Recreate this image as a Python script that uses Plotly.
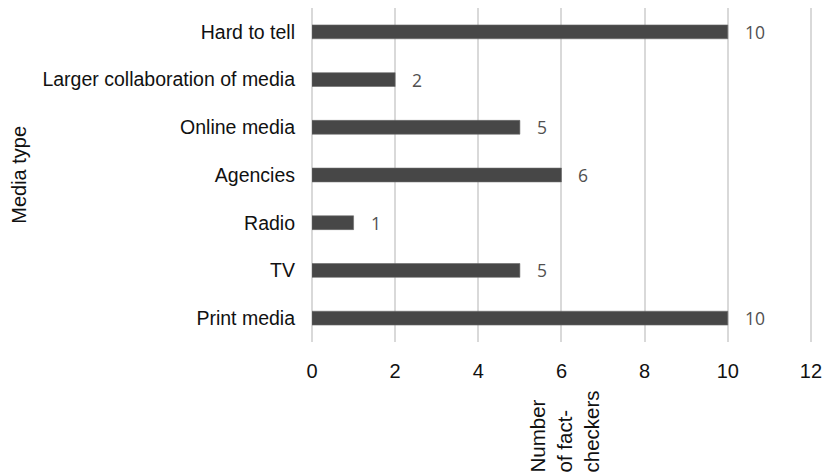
import plotly.graph_objects as go

categories = ["Print media", "TV", "Radio", "Agencies", "Online media",
              "Larger collaboration of media", "Hard to tell"]
values = [10, 5, 1, 6, 5, 2, 10]
x_ticks = [0, 2, 4, 6, 8, 10, 12]

L, R, T, B = 312, 14, 8, 134
W, H = 830, 476
pw, ph = W - L - R, H - T - B

fig = go.Figure()
fig.add_trace(go.Bar(
    y=categories, x=values, orientation="h",
    marker=dict(color="#474747", line=dict(color="#6a6a6a", width=0.6)),
    width=0.29, hoverinfo="skip"))

for c, v in zip(categories, values):
    fig.add_annotation(x=v, y=c, text=str(v), showarrow=False,
                       xanchor="left", xshift=15,
                       font=dict(family="Open Sans", size=17.5, color="#505050"))

fig.add_annotation(xref="paper", yref="paper",
                   x=(566 - L) / pw, y=(ph - (474 - T)) / ph,
                   xanchor="center", yanchor="bottom",
                   text="Number<br>of fact-<br>checkers", textangle=-90,
                   align="left", showarrow=False,
                   font=dict(family="Liberation Sans", size=20.5, color="#111"))

fig.add_annotation(xref="paper", yref="paper",
                   x=(17 - L) / pw, y=0.5,
                   xanchor="center", yanchor="middle",
                   text="Media type", textangle=-90, showarrow=False,
                   font=dict(family="Liberation Sans", size=20, color="#111"))

fig.update_layout(
    width=W, height=H, margin=dict(l=L, r=R, t=T, b=B),
    paper_bgcolor="white", plot_bgcolor="white", showlegend=False,
    font=dict(family="Liberation Sans", size=19, color="#111"),
    bargap=0.7,
    xaxis=dict(range=[0, 12.05], tickvals=x_ticks, ticktext=[str(t) for t in x_ticks],
               showgrid=True, gridcolor="#d9d9d9", gridwidth=1.5,
               zeroline=True, zerolinecolor="#d9d9d9", zerolinewidth=1.5,
               showline=False, ticks="", ticklabelstandoff=15,
               tickfont=dict(size=20)),
    yaxis=dict(categoryorder="array", categoryarray=categories,
               range=[-0.5, 6.5], showgrid=False, zeroline=False,
               showline=False, ticks="", ticklabelstandoff=16,
               tickfont=dict(size=19.5)),
)

fig.write_html("out.html")
